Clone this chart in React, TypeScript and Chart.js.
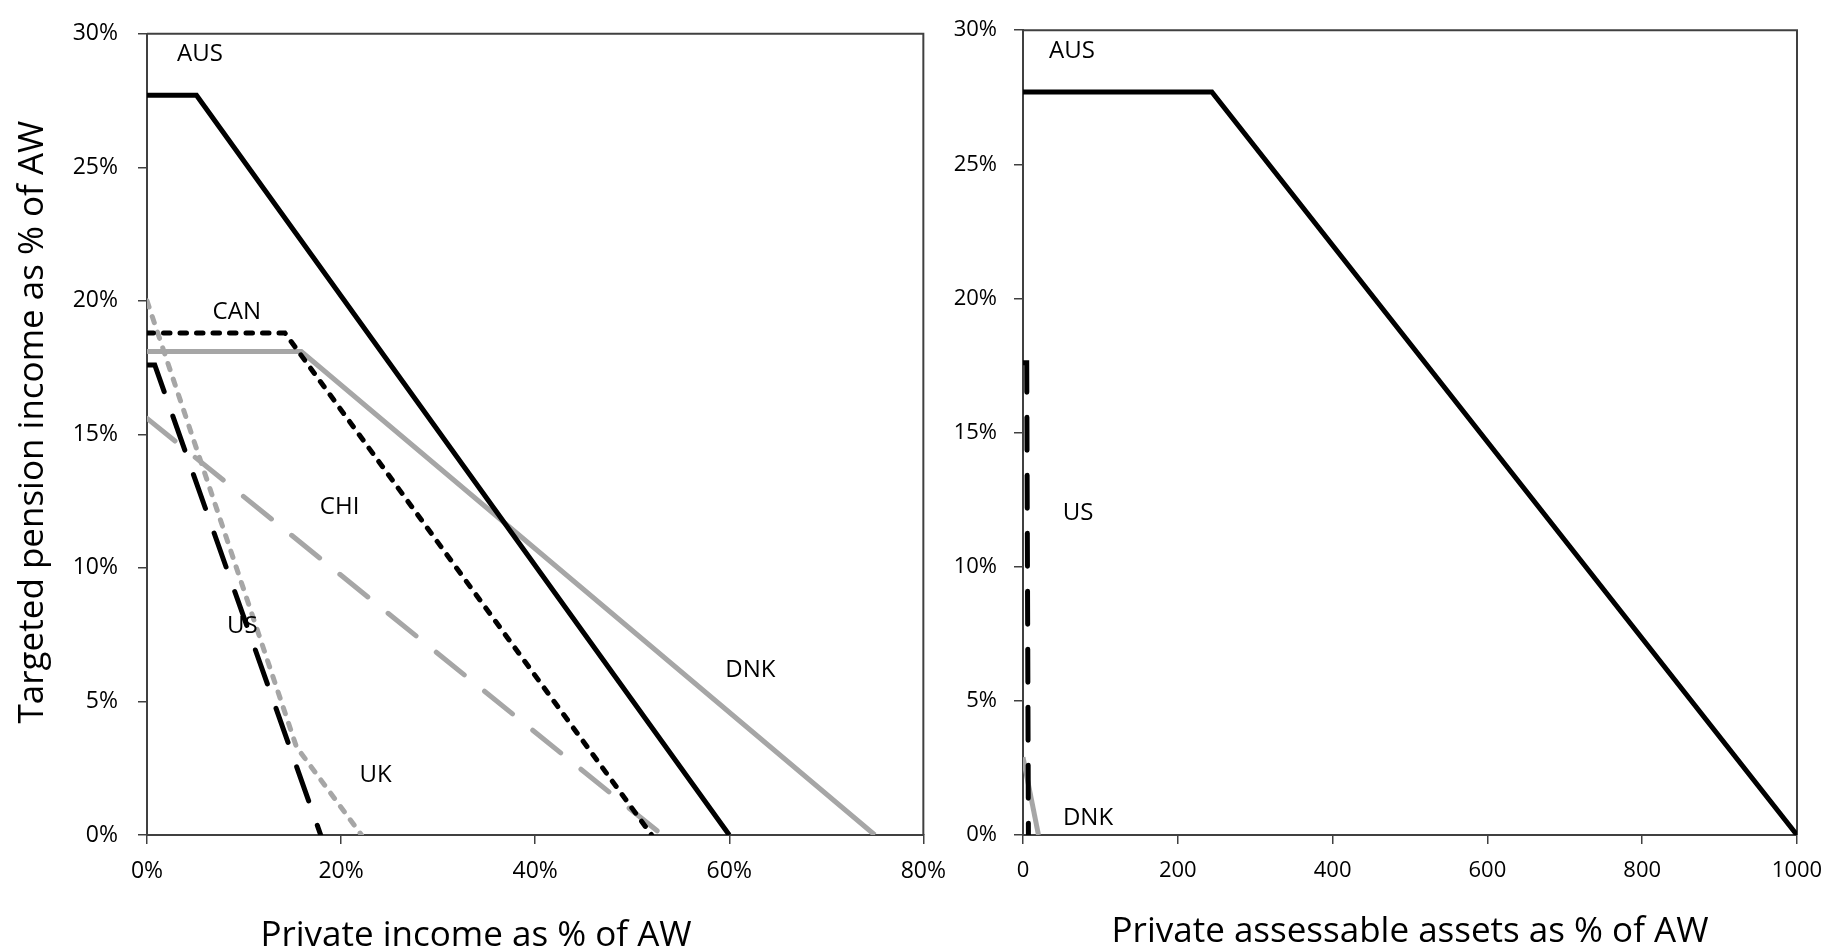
import React, { useEffect, useRef } from "react";
import { Chart, registerables } from "chart.js";
Chart.register(...registerables);

const GRAY = "#A6A6A6";
const BLACK = "#000000";
const AXIS = "#404040";
const FONT = "'Open Sans', 'Noto Sans', sans-serif";

// ---- Tick values ----
const incomeTicks = [0, 20, 40, 60, 80];
const assetTicks = [0, 200, 400, 600, 800, 1000];
const pensionTicks = [0, 5, 10, 15, 20, 25, 30];

// ---- Left panel: private income as % of AW ----
const ausIncomeX = [0, 5.1, 60];
const ausIncomeY = [27.7, 27.7, 0];
const canIncomeX = [0, 14.2, 52];
const canIncomeY = [18.8, 18.8, 0];
const dnkIncomeX = [0, 15.9, 75];
const dnkIncomeY = [18.1, 18.1, 0];
const chiIncomeX = [0, 53.1];
const chiIncomeY = [15.6, 0];
const usIncomeX = [0, 0.8, 17.9];
const usIncomeY = [17.6, 17.6, 0];
const ukIncomeX = [0, 15.4, 22.1];
const ukIncomeY = [20, 3.3, 0];

const incomeLabels = ["AUS", "CAN", "CHI", "US", "UK", "DNK"];
const incomeLabelX = [5.45, 9.25, 19.85, 9.82, 23.55, 62.18];
const incomeLabelY = [29.23, 19.59, 12.27, 7.81, 2.23, 6.19];

// ---- Right panel: private assessable assets as % of AW ----
const ausAssetX = [0, 244, 1000];
const ausAssetY = [27.7, 27.7, 0];
const usAssetX = [0, 4.8, 7];
const usAssetY = [17.6, 17.6, 0];
const dnkAssetX = [0, 20];
const dnkAssetY = [2.9, 0];

const assetLabels = ["AUS", "US", "DNK"];
const assetLabelX = [63.3, 71.1, 84.0];
const assetLabelY = [29.22, 12.0, 0.63];

const pts = (xs: number[], ys: number[]) => xs.map((x, i) => ({ x, y: ys[i] }));

const SHORT_DASH = [6.5, 10];
const LONG_DASH = [36, 26];

function ds(label: string, xs: number[], ys: number[], color: string, dash: number[] | null) {
  return {
    label,
    data: pts(xs, ys),
    borderColor: color,
    backgroundColor: color,
    borderWidth: 5,
    borderDash: dash || [],
    borderCapStyle: dash ? "round" : "butt",
    borderJoinStyle: "miter",
    pointRadius: 0,
    tension: 0,
    fill: false,
  } as any;
}

type PanelCfg = {
  datasets: any[];
  xTicks: number[];
  xMax: number;
  xSuffix: string;
  yWidth: number;
  xHeight: number;
  padTop: number;
  padRight: number;
  yTickPad: number;
  tickSize: number;
  labels: string[];
  labelX: number[];
  labelY: number[];
  xTitle: string;
  xTitleCenter: number;
  xTitleBaseline: number;
  yTitle?: string;
};

function makeConfig(p: PanelCfg): any {
  const framePlugin = {
    id: "frame",
    beforeDatasetsDraw(chart: any) {
      const { ctx, chartArea } = chart;
      ctx.save();
      ctx.strokeStyle = AXIS;
      ctx.lineWidth = 2;
      ctx.beginPath();
      ctx.moveTo(chartArea.left, chartArea.top);
      ctx.lineTo(chartArea.right, chartArea.top);
      ctx.lineTo(chartArea.right, chartArea.bottom);
      ctx.stroke();
      ctx.restore();
    },
    afterDatasetsDraw(chart: any) {
      const { ctx } = chart;
      const xs = chart.scales.x;
      const ys = chart.scales.y;
      ctx.save();
      ctx.fillStyle = "#000";
      ctx.font = `24px ${FONT}`;
      ctx.textAlign = "center";
      ctx.textBaseline = "middle";
      p.labels.forEach((t, i) => {
        ctx.fillText(t, xs.getPixelForValue(p.labelX[i]), ys.getPixelForValue(p.labelY[i]));
      });
      ctx.font = `35px ${FONT}`;
      ctx.textBaseline = "alphabetic";
      ctx.fillText(p.xTitle, p.xTitleCenter, p.xTitleBaseline);
      if (p.yTitle) {
        ctx.translate(43, 422);
        ctx.rotate(-Math.PI / 2);
        ctx.fillText(p.yTitle, 0, 0);
      }
      ctx.restore();
    },
  };

  return {
    type: "line",
    data: { datasets: p.datasets },
    plugins: [framePlugin],
    options: {
      animation: false,
      responsive: false,
      devicePixelRatio: 1,
      layout: { padding: { top: p.padTop, right: p.padRight, left: 0, bottom: 0 } },
      plugins: { legend: { display: false }, tooltip: { enabled: false }, title: { display: false } },
      scales: {
        x: {
          type: "linear",
          min: 0,
          max: p.xMax,
          afterBuildTicks: (s: any) => {
            s.ticks = p.xTicks.map((v) => ({ value: v }));
          },
          afterFit: (s: any) => {
            s.height = p.xHeight;
          },
          ticks: {
            color: "#000",
            font: { family: FONT, size: p.tickSize },
            padding: 14,
            maxRotation: 0,
            autoSkip: false,
            callback: (v: any) => `${v}${p.xSuffix}`,
          },
          grid: { drawOnChartArea: false, drawTicks: true, tickLength: 9, color: AXIS, lineWidth: 1.5 },
          border: { display: true, color: AXIS, width: 2 },
        },
        y: {
          type: "linear",
          min: 0,
          max: 30,
          afterBuildTicks: (s: any) => {
            s.ticks = pensionTicks.map((v) => ({ value: v }));
          },
          afterFit: (s: any) => {
            s.width = p.yWidth;
          },
          ticks: {
            color: "#000",
            font: { family: FONT, size: p.tickSize },
            padding: p.yTickPad,
            autoSkip: false,
            callback: (v: any) => `${v}%`,
          },
          grid: { drawOnChartArea: false, drawTicks: true, tickLength: 9, color: AXIS, lineWidth: 1.5 },
          border: { display: true, color: AXIS, width: 2 },
        },
      },
    },
  };
}

function Panel({ cfg, left, width }: { cfg: PanelCfg; left: number; width: number }) {
  const ref = useRef<HTMLCanvasElement | null>(null);
  useEffect(() => {
    if (!ref.current) return;
    const chart = new Chart(ref.current, makeConfig(cfg));
    return () => chart.destroy();
  }, []);
  return (
    <canvas
      ref={ref}
      width={width}
      height={949}
      style={{ position: "absolute", left, top: 0, width, height: 949 }}
    />
  );
}

const leftCfg: PanelCfg = {
  datasets: [
    ds("AUS", ausIncomeX, ausIncomeY, BLACK, null),
    ds("CAN", canIncomeX, canIncomeY, BLACK, SHORT_DASH),
    ds("US", usIncomeX, usIncomeY, BLACK, LONG_DASH),
    ds("UK", ukIncomeX, ukIncomeY, GRAY, SHORT_DASH),
    ds("CHI", chiIncomeX, chiIncomeY, GRAY, LONG_DASH),
    ds("DNK", dnkIncomeX, dnkIncomeY, GRAY, null),
  ],
  xTicks: incomeTicks,
  xMax: 80,
  xSuffix: "%",
  yWidth: 147,
  xHeight: 114,
  padTop: 21,
  padRight: 35,
  yTickPad: 20,
  tickSize: 23,
  labels: incomeLabels,
  labelX: incomeLabelX,
  labelY: incomeLabelY,
  xTitle: "Private income as % of AW",
  xTitleCenter: 476,
  xTitleBaseline: 946,
  yTitle: "Targeted pension income as % of AW",
};

const rightCfg: PanelCfg = {
  datasets: [
    ds("AUS", ausAssetX, ausAssetY, BLACK, null),
    ds("US", usAssetX, usAssetY, BLACK, [33, 25]),
    ds("DNK", dnkAssetX, dnkAssetY, GRAY, null),
  ],
  xTicks: assetTicks,
  xMax: 1000,
  xSuffix: "",
  yWidth: 103,
  xHeight: 114,
  padTop: 25,
  padRight: 46,
  yTickPad: 17,
  tickSize: 22,
  labels: assetLabels,
  labelX: assetLabelX,
  labelY: assetLabelY,
  xTitle: "Private assessable assets as % of AW",
  xTitleCenter: 1410 - 920,
  xTitleBaseline: 942,
};

export default function App() {
  return (
    <div style={{ position: "fixed", left: 0, top: 0, width: 1843, height: 949, background: "#fff", overflow: "hidden" }}>
      <Panel cfg={leftCfg} left={0} width={960} />
      <Panel cfg={rightCfg} left={920} width={923} />
    </div>
  );
}
